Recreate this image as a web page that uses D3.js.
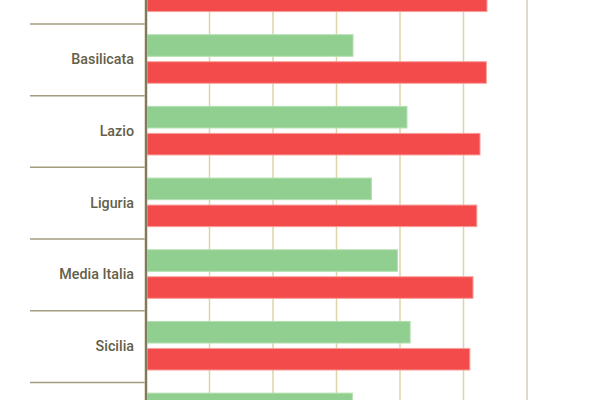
<!DOCTYPE html>
<html>
<head>
<meta charset="utf-8">
<script src="https://cdn.jsdelivr.net/npm/d3@7"></script>
<style>
  body { margin: 0; background: #fff; }
  svg { display: block; }
  .label text { font-family: Roboto, sans-serif; font-weight: 500; font-size: 14.3px; fill: #646049; }
</style>
</head>
<body>
<div id="chart"></div>
<script>
// regions (first and last are cut by the frame)
var regions = ['Abruzzo', 'Basilicata', 'Lazio', 'Liguria', 'Media Italia', 'Sicilia', 'Veneto'];
var series = ['verde', 'rosso'];
var verde = [34.0, 32.6, 41.1, 35.5, 39.6, 41.6, 32.5];
var rosso = [53.7, 53.6, 52.6, 52.1, 51.5, 51.0, 50.2];
var gridTicks = [10, 20, 30, 40, 50, 60];

var width = 600,
    height = 400;

var svg = d3.select('#chart').append('svg')
    .attr('width', width)
    .attr('height', height);

var x = d3.scaleLinear()
    .domain([0, 60])
    .range([146, 527]);

var y = d3.scaleBand()
    .domain(regions)
    .range([-47.7, 454.1])
    .padding(0);

var ySub = d3.scaleBand()
    .domain(series)
    .range([10.7, 59.3])
    .paddingInner(0.2);

var colors = { verde: '#91cf91', rosso: '#f34b4b' };

// vertical grid
svg.append('g').selectAll('line')
    .data(gridTicks)
    .enter().append('line')
    .attr('x1', function(d) { return x(d); })
    .attr('x2', function(d) { return x(d); })
    .attr('y1', 0)
    .attr('y2', height)
    .attr('stroke', function(d) { return d === 60 ? '#d3ccb8' : '#ddd4aa'; })
    .attr('stroke-width', 1.5);

// band separators on the left
svg.append('g').selectAll('line')
    .data(regions.slice(1))
    .enter().append('line')
    .attr('x1', 30)
    .attr('x2', 146)
    .attr('y1', function(d) { return y(d); })
    .attr('y2', function(d) { return y(d); })
    .attr('stroke', '#a39c7e')
    .attr('stroke-width', 1.5);

var rows = regions.map(function(r, i) {
    return { region: r, values: [
        { key: 'verde', value: verde[i] },
        { key: 'rosso', value: rosso[i] }
    ] };
});

var group = svg.append('g').selectAll('g')
    .data(rows)
    .enter().append('g')
    .attr('transform', function(d) { return 'translate(0,' + y(d.region) + ')'; });

group.selectAll('rect')
    .data(function(d) { return d.values; })
    .enter().append('rect')
    .attr('x', x(0))
    .attr('y', function(d) { return ySub(d.key); })
    .attr('width', function(d) { return x(d.value) - x(0); })
    .attr('height', ySub.bandwidth())
    .attr('fill', function(d) { return colors[d.key]; })
    .attr('stroke', function(d) { return d.key === 'verde' ? '#b4e0b0' : '#f7a09a'; })
    .attr('stroke-width', 1);

// category labels, only for the bands inside the frame
var visible = regions.filter(function(r) {
    var c = y(r) + y.bandwidth() / 2;
    return c > 0 && c < height;
});
var yAxis = d3.axisLeft(y).tickValues(visible).tickSize(0).tickPadding(12);
var labels = svg.append('g')
    .attr('class', 'label')
    .attr('transform', 'translate(146,0)')
    .call(yAxis);
labels.select('.domain').remove();

// axis line
svg.append('line')
    .attr('x1', 146).attr('x2', 146)
    .attr('y1', 0).attr('y2', height)
    .attr('stroke', '#c9c0a0')
    .attr('stroke-width', 3);
svg.append('line')
    .attr('x1', 146).attr('x2', 146)
    .attr('y1', 0).attr('y2', height)
    .attr('stroke', '#4e4a38')
    .attr('stroke-width', 1.2);
</script>
</body>
</html>
